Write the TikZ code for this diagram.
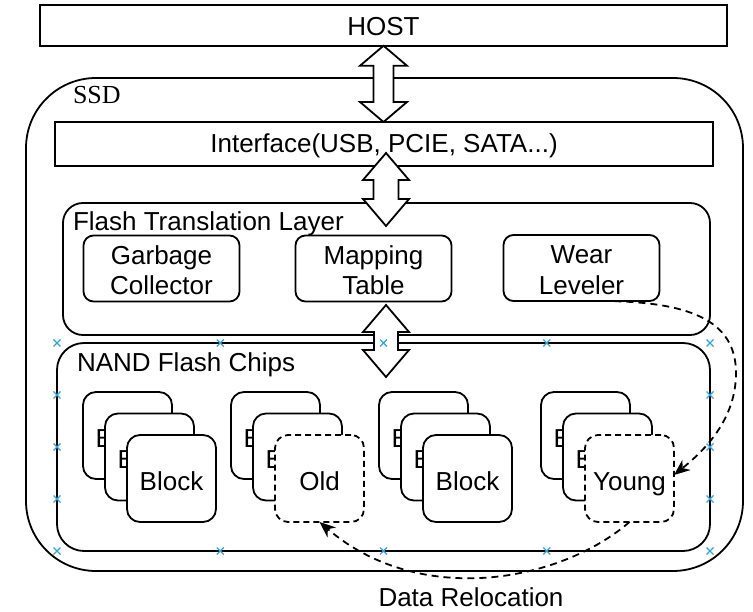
\documentclass[tikz,border=0pt]{standalone}
\usepackage{fontspec}
\setmainfont{Liberation Sans}
\newfontfamily\ssdserif{Liberation Serif}
\usetikzlibrary{calc,arrows.meta}
\definecolor{selblue}{RGB}{41,168,230}
% top point, bottom point, half head width, half shaft width, head length
\newcommand{\blockarrowdraw}[5]{%
  \draw[blockarrow] let \p1=(#1), \p2=(#2) in
   (\x1,\y1) -- (\x1+#3,\y1-#5) -- (\x1+#4,\y1-#5) -- (\x1+#4,\y2+#5)
   -- (\x1+#3,\y2+#5) -- (\x1,\y2) -- (\x1-#3,\y2+#5) -- (\x1-#4,\y2+#5)
   -- (\x1-#4,\y1-#5) -- (\x1-#3,\y1-#5) -- cycle;}
\newcommand{\selmark}[1]{%
  \path (#1) coordinate (selm);
  \draw[selx] ([shift={(-3.5,-3.5)}]selm) -- ([shift={(3.5,3.5)}]selm)
              ([shift={(-3.5,3.5)}]selm) -- ([shift={(3.5,-3.5)}]selm);}
\newcommand{\tstrut}{\rule{0pt}{22.6pt}}
\tikzset{
  txt/.style={font=\fontsize{26pt}{30.6pt}\selectfont, inner sep=0pt, outer sep=0pt},
  sqbox/.style={txt, draw, line width=1.8pt, fill=white},
  rbox/.style={sqbox, rounded corners=#1},
  twoline/.style={rbox=10pt, minimum width=156pt, minimum height=66pt, align=center},
  blk/.style={rbox=13pt, minimum width=89pt, minimum height=87pt, text height=23.5pt, text depth=0pt},
  blkdash/.style={blk, dash pattern=on 6pt off 4pt},
  blockarrow/.style={draw, fill=white, line width=1.8pt, line join=miter},
  reloc/.style={line width=1.8pt, dash pattern=on 7pt off 5pt,
    -{Stealth[length=16pt,width=13pt,inset=5pt]}},
  selx/.style={selblue, line width=1.2pt},
}
\begin{document}
\begin{tikzpicture}[x=1pt,y=-1pt]
\useasboundingbox (0,0) rectangle (753,612);
% SSD
\node[rbox=70pt, minimum width=717pt, minimum height=493pt] (ssd) at (384.5,324.5) {};
\node[txt, anchor=base west] (ssdlabel) at (73,104) {\ssdserif SSD};
% HOST
\node[sqbox, minimum width=687pt, minimum height=40.5pt, text height=21pt, text depth=0pt] (host) at (383.5,25.5) {HOST};
% Interface
\node[sqbox, minimum width=658pt, minimum height=44pt, text height=17pt, text depth=0pt] (iface) at (384,144) {Interface(USB, PCIE, SATA...)};
% FTL
\node[rbox=20pt, minimum width=647pt, minimum height=132pt] (ftl) at (386.5,269) {};
\node[txt, anchor=base west] (ftllabel) at (73,231) {Flash Translation Layer};
\node[twoline] (gc) at (161.5,268.5) {\tstrut Garbage\\Collector};
\node[twoline] (mt) at (373.5,268.5) {\tstrut Mapping\\Table};
\node[twoline] (wl) at (581.5,268) {\tstrut Wear\\Leveler};
% NAND
\node[rbox=27pt, minimum width=653pt, minimum height=208pt] (nand) at (383.5,447) {};
\node[txt, anchor=base west] (nandlabel) at (77,372) {NAND Flash Chips};
% stack 1
\node[blk] (b11) at (127.5,435.5) {Block};
\node[blk] (b12) at (149.5,457) {Block};
\node[blk] (b13) at (171.5,478.5) {Block};
% stack 2
\node[blk] (b21) at (275.5,435.5) {Block};
\node[blk] (b22) at (297.5,457) {Block};
\node[blkdash] (old) at (319.5,478.5) {Old};
% stack 3
\node[blk] (b31) at (423.5,435.5) {Block};
\node[blk] (b32) at (445.5,457) {Block};
\node[blk] (b33) at (467.5,478.5) {Block};
% stack 4
\node[blk] (b41) at (585.5,435.5) {Block};
\node[blk] (b42) at (607.5,457) {Block};
\node[blkdash] (young) at (629.5,478.5) {Young};
% block arrows
\coordinate (a2t) at (386,153);
\coordinate (a2b) at (386,226);
\coordinate (a3t) at (386,305);
\coordinate (a3b) at (386,377);
\blockarrowdraw{host.south}{iface.north}{23.5pt}{10pt}{20pt}
\blockarrowdraw{a2t}{a2b}{23pt}{12.5pt}{27pt}
\blockarrowdraw{a3t}{a3b}{23pt}{12pt}{27pt}
% data relocation
\draw[reloc] ([xshift=9pt]wl.south) .. controls (690,300) and (737,320) .. (736,375)
  .. controls (735,420) and (705,450) .. ([yshift=3.5pt]young.east);
\draw[reloc] (young.south) .. controls (560,582) and (420,608) .. (old.south);
\node[txt, anchor=base] (drl) at (471,606) {Data Relocation};
% selection markers
\foreach \f in {0,0.25,0.5,0.75,1}{
  \selmark{$(nand.north west)!\f!(nand.north east)$}
  \selmark{$(nand.south west)!\f!(nand.south east)$}
}
\foreach \f in {0.25,0.5,0.75}{
  \selmark{$(nand.north west)!\f!(nand.south west)$}
  \selmark{$(nand.north east)!\f!(nand.south east)$}
}
\end{tikzpicture}
\end{document}
